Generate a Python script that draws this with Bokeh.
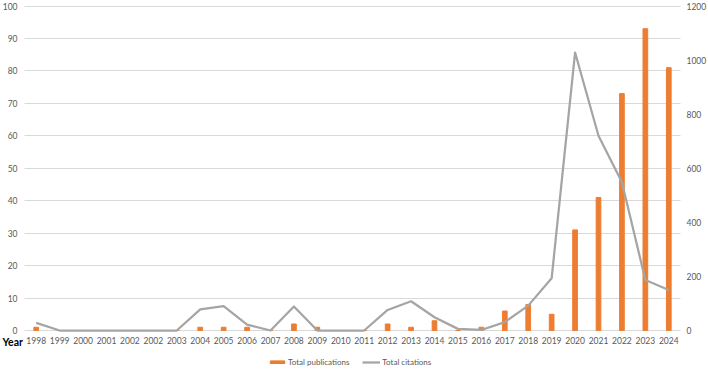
from bokeh.plotting import figure
from bokeh.models import (Range1d, LinearAxis, FixedTicker, Legend, LegendItem, Label)
from bokeh.embed import file_html
from bokeh.resources import INLINE

# ---- data ----
year_labels = ["1998", "1999", "2000", "2001", "2002", "2002", "2003", "2004", "2005",
               "2006", "2007", "2008", "2009", "2010", "2011", "2012", "2013", "2014",
               "2015", "2016", "2017", "2018", "2019", "2020", "2021", "2022", "2023", "2024"]
total_publications = [1, 0, 0, 0, 0, 0, 0, 1, 1, 1, 0, 2, 1, 0, 0, 2, 1, 3,
                      0, 1, 6, 8, 5, 31, 41, 73, 93, 81]
total_citations = [28, 0, 0, 0, 0, 0, 0, 78, 90, 22, 0, 89, 0, 0, 0, 76, 108, 49,
                   6, 2, 31, 92, 193, 1028, 720, 548, 187, 150]
left_ticks = [0, 10, 20, 30, 40, 50, 60, 70, 80, 90, 100]
right_ticks = [0, 200, 400, 600, 800, 1000, 1200]

xs = list(range(len(year_labels)))

FONT = "Lato"
TICK_COLOR = "#595959"

# ---- layout geometry (pixels) ----
W, H = 708, 369
plot_left, plot_right = 24, 680          # pixel extent of the category area
plot_top, plot_zero = 5.5, 330           # pixel rows of 100 and 0 on the left axis

n = len(year_labels)
px_per_x = (plot_right - plot_left) / n
x_lo = -0.5 - plot_left / px_per_x
x_hi = n - 0.5 + (W - plot_right) / px_per_x
px_per_y = (plot_zero - plot_top) / left_ticks[-1]
y_lo = -(H - plot_zero) / px_per_y
y_hi = left_ticks[-1] + plot_top / px_per_y
ratio = right_ticks[-1] / left_ticks[-1]

p = figure(width=W, height=H, output_backend="svg", toolbar_location=None,
           x_range=Range1d(x_lo, x_hi), y_range=Range1d(y_lo, y_hi),
           min_border_left=0, min_border_right=0, min_border_top=0, min_border_bottom=0)
p.outline_line_color = None
p.background_fill_color = "white"
p.border_fill_color = "white"

p.extra_y_ranges = {"cit": Range1d(y_lo * ratio, y_hi * ratio)}

# grid (only across the category area)
p.xgrid.grid_line_color = None
p.ygrid.grid_line_color = "#D9D9D9"
p.ygrid.grid_line_width = 1
p.ygrid.ticker = FixedTicker(ticks=left_ticks)
p.ygrid.cross_bounds = (-0.5, n - 0.5)

# bars and line
bars = p.vbar(x=xs, top=total_publications, width=0.2, color="#ED7D31")
line = p.line(x=xs, y=total_citations, y_range_name="cit", color="#A5A5A5",
              line_width=2.25, line_join="round")

def style(ax, standoff):
    ax.axis_line_color = None
    ax.major_tick_line_color = None
    ax.minor_tick_line_color = None
    ax.major_tick_out = 0
    ax.major_tick_in = 0
    ax.major_label_standoff = standoff
    ax.major_label_text_font = FONT
    ax.major_label_text_font_size = "8.5px"
    ax.major_label_text_color = TICK_COLOR

# x axis, drawn at y = 0
xa = p.xaxis[0]
xa.ticker = FixedTicker(ticks=xs)
xa.major_label_overrides = {i: lab for i, lab in enumerate(year_labels)}
xa.fixed_location = 0
style(xa, 6)

# left axis, drawn at the left edge of the category area
ya = p.yaxis[0]
ya.ticker = FixedTicker(ticks=left_ticks)
ya.fixed_location = -0.5
style(ya, 7)

# right axis
ra = LinearAxis(y_range_name="cit", ticker=FixedTicker(ticks=right_ticks))
ra.fixed_location = n - 0.5
style(ra, 6)
p.add_layout(ra, "right")

# "Year" label
p.add_layout(Label(x=x_lo, y=0, x_offset=2, y_offset=-11, text="Year",
                   text_font=FONT, text_font_style="bold", text_font_size="10.5px",
                   text_color="#000000", text_align="left", text_baseline="middle"))

# legend
legend = Legend(items=[LegendItem(label="Total publications", renderers=[bars]),
                       LegendItem(label="Total citations", renderers=[line])],
                orientation="horizontal", location=(268, 2),
                glyph_width=18, glyph_height=4, label_height=10,
                label_standoff=2, spacing=13, padding=2, margin=0,
                label_text_font=FONT, label_text_font_size="8px",
                label_text_color=TICK_COLOR, border_line_color=None,
                background_fill_alpha=0)
p.add_layout(legend, "center")

open("out.html", "w").write(file_html(p, INLINE))
